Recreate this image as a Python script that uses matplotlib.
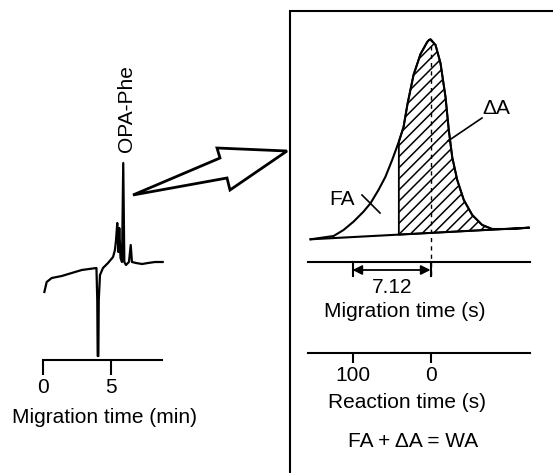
import matplotlib
matplotlib.use("Agg")
import matplotlib.pyplot as plt
from matplotlib.patches import Polygon
import numpy as np

plt.rcParams['font.family'] = ['Liberation Sans', 'DejaVu Sans']
plt.rcParams['hatch.linewidth'] = 1.1

# ---- Left: electropherogram (migration time in min, signal a.u.) ----
trace_min = [0.10, 0.27, 0.64, 1.38, 2.11, 2.85, 3.93, 3.99, 4.02, 4.07, 4.10, 4.19,
             4.41, 4.78, 5.15, 5.29, 5.37, 5.46, 5.54, 5.61, 5.70, 5.81, 5.90, 5.98,
             6.10, 6.32, 6.45, 6.54, 6.84, 7.28, 7.72, 8.24, 8.80]
trace_sig = [68, 78, 82, 84, 87, 90, 92, 60, 4, 4, 60, 85,
             92, 97, 103, 110, 120, 137, 108, 132, 102, 98, 197, 98,
             95, 98, 115, 98, 97, 96, 97, 98, 98]
left_ticks = [0, 5]
left_ticklabels = ["0", "5"]
peak_label = "OPA-Phe"

# ---- Right: enlarged OPA-Phe peak (migration time in s relative to apex) ----
peak_t = [-10.95, -8.85, -7.94, -7.03, -6.12, -5.48, -4.75, -4.11, -3.50, -2.89,
          -2.46, -2.10, -1.55, -0.91, -0.30, -0.14, 0.00, 0.46, 0.91, 1.37, 1.67,
          1.98, 2.44, 3.04, 3.81, 4.72, 5.63, 7.30, 8.97]
peak_sig = [20.7, 24, 30, 38.3, 48.3, 56.7, 70, 83.3, 100, 118.3,
            133, 156, 185, 206, 218, 220, 220.7, 215, 197, 163, 130,
            103, 80, 60, 45, 35, 31, 31, 32.3]
baseline_t = [-10.95, 8.97]
baseline_sig = [20.7, 32.3]
hatch_start = -2.89          # start of the delta-A region (s)
interval_s = 7.12            # migration-time interval (s)
reaction_ticks = [100, 0]
reaction_ticklabels = ["100", "0"]

W, H = 553, 473
fig = plt.figure(figsize=(W / 100, H / 100), dpi=100)


def px_axes(x0, x1, y0, y1, **kw):
    return fig.add_axes([x0 / W, 1 - y1 / H, (x1 - x0) / W, (y1 - y0) / H], **kw)


FS = 15

# overlay for frame, big arrow and free text
ov = px_axes(0, W, 0, H)
ov.set_xlim(0, W)
ov.set_ylim(H, 0)
ov.axis('off')
ov.plot([290, 290, 553], [473, 11, 11], color='black', lw=1.5, solid_joinstyle='miter')
arrow = Polygon([(133, 195), (220, 158), (217, 148), (287, 151), (230, 190), (227, 178)],
                closed=True, facecolor='white', edgecolor='black', lw=2, joinstyle='miter')
ov.add_patch(arrow)

# left panel
axL = px_axes(43, 162, 160, 360)
axL.set_xlim(0, 8.75)
axL.set_ylim(0, 200)
axL.plot(trace_min, trace_sig, color='black', lw=1.6, clip_on=False, solid_joinstyle='round')
for s in ['top', 'right', 'left']:
    axL.spines[s].set_visible(False)
axL.spines['bottom'].set_linewidth(1.5)
axL.set_yticks([])
axL.set_xticks(left_ticks)
axL.set_xticklabels(left_ticklabels, fontsize=FS)
axL.tick_params(axis='x', length=11, width=1.5, pad=2)
axL.patch.set_alpha(0)
imax = int(np.argmax(trace_sig))
axL.annotate(peak_label, xy=(trace_min[imax], trace_sig[imax]), xytext=(2, 8),
             textcoords='offset points', rotation=90, ha='center', va='bottom', fontsize=FS)
ov.text(105, 423, "Migration time (min)", ha='center', va='baseline', fontsize=FS)

# right panel: peak
k = 10.955  # px per s
x_apex = 430.5
axP = px_axes(300, 540, 30, 280)
axP.set_xlim((300 - x_apex) / k, (540 - x_apex) / k)
axP.set_ylim(-20, 230)
axP.axis('off')
axP.patch.set_alpha(0)
axP.plot(peak_t, peak_sig, color='black', lw=1.5, solid_joinstyle='round')
axP.plot(baseline_t, baseline_sig, color='black', lw=1.5)
pt = np.array(peak_t)
ps = np.array(peak_sig)
m = pt >= hatch_start
bl = np.interp(pt[m], baseline_t, baseline_sig)
axP.fill_between(pt[m], ps[m], bl, facecolor='none', edgecolor='black', hatch='///', lw=1.3)
ipk = int(np.argmax(peak_sig))
axP.vlines(peak_t[ipk], -15, peak_sig[ipk], colors='black', linestyles=(0, (3, 3)), lw=1)

ov.text(342, 205, "FA", ha='center', va='baseline', fontsize=FS)
ov.plot([362, 380], [195, 213], color='black', lw=1.2)
ov.text(496, 114, "ΔA", ha='center', va='baseline', fontsize=FS)
ov.plot([482, 448], [118, 141], color='black', lw=1.2)

# migration time axis (s)
axM = px_axes(308, 530, 200, 262)
axM.set_xlim((308 - x_apex) / k, (530 - x_apex) / k)
axM.set_ylim(0, 1)
for s in ['top', 'right', 'left']:
    axM.spines[s].set_visible(False)
axM.spines['bottom'].set_linewidth(1.5)
axM.set_xticks([])
axM.set_yticks([])
axM.patch.set_alpha(0)
t0 = peak_t[ipk]
yb = -8 / 62
axM.annotate("", xy=(t0 - interval_s, yb), xytext=(t0, yb),
             xycoords='data', textcoords='data', annotation_clip=False,
             arrowprops=dict(arrowstyle='<|-|>', color='black', lw=1.3,
                             shrinkA=0, shrinkB=0, mutation_scale=14))
for xv in (t0 - interval_s, t0):
    axM.plot([xv, xv], [0, -14 / 62], color='black', lw=1.5, clip_on=False)
ov.text(392, 293, f"{interval_s:.2f}", ha='center', va='baseline', fontsize=FS)
ov.text(405, 317, "Migration time (s)", ha='center', va='baseline', fontsize=FS)

# reaction time axis (s)
kr = 0.78  # px per s
axR = px_axes(308, 530, 300, 353)
axR.set_xlim((x_apex - 308) / kr, (x_apex - 530) / kr)
axR.set_ylim(0, 1)
for s in ['top', 'right', 'left']:
    axR.spines[s].set_visible(False)
axR.spines['bottom'].set_linewidth(1.5)
axR.set_yticks([])
axR.set_xticks(reaction_ticks)
axR.set_xticklabels(reaction_ticklabels, fontsize=FS)
axR.tick_params(axis='x', length=7.5, width=1.5, pad=2)
axR.patch.set_alpha(0)
ov.text(407, 408, "Reaction time (s)", ha='center', va='baseline', fontsize=FS)
ov.text(413, 447, "FA + ΔA = WA", ha='center', va='baseline', fontsize=FS)

fig.savefig("out.png", dpi=100)
